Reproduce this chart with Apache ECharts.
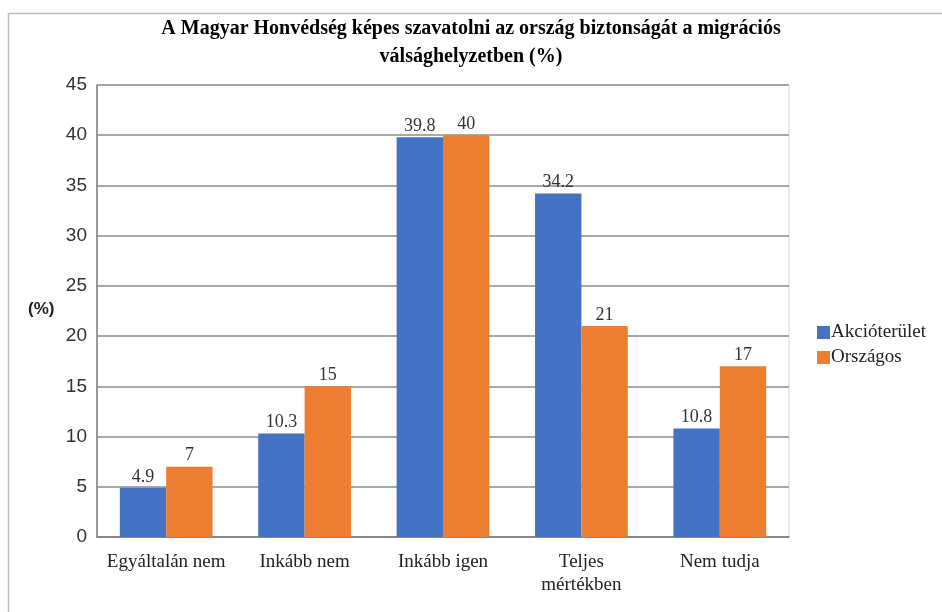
<!DOCTYPE html>
<html>
<head>
<meta charset="utf-8">
<title>Magyar Honvédség</title>
<script src="https://cdn.jsdelivr.net/npm/echarts@6/dist/echarts.min.js"></script>
<style>
  html, body { margin: 0; padding: 0; background: #fff; }
  #chart { width: 942px; height: 612px; }
</style>
</head>
<body>
<!--容器-->
<div id="chart"></div>
<script>
// adatok
var categories = ["Egyáltalán nem", "Inkább nem", "Inkább igen", "Teljes\nmértékben", "Nem tudja"];
var akcioterulet = [4.9, 10.3, 39.8, 34.2, 10.8];
var orszagos = [7, 15, 40, 21, 17];
var seriesNames = ["Akcióterület", "Országos"];

var serif = "'Liberation Serif', 'DejaVu Serif', serif";
var sans = "'Liberation Sans', Arial, sans-serif";

var myChart = echarts.init(document.getElementById("chart"));

var labelStyle = {
  show: true,
  position: "top",
  distance: 2,
  fontFamily: serif,
  fontSize: 18,
  color: "#333"
};

var option = {
  animation: false,
  backgroundColor: "#fff",
  title: {
    text: "A Magyar Honvédség képes szavatolni az ország biztonságát a migrációs\nválsághelyzetben (%)",
    left: "center",
    top: 10,
    textStyle: {
      fontFamily: serif,
      fontWeight: "bold",
      fontSize: 20,
      lineHeight: 28,
      color: "#000"
    }
  },
  //外框 + (%) felirat
  graphic: [
    {
      type: "rect",
      shape: { x: 8.5, y: 13.5, width: 1000, height: 700 },
      style: { fill: null, stroke: "#bfbfbf", lineWidth: 1.5 }
    },
    {
      type: "text",
      left: 28,
      top: 301,
      style: {
        text: "(%)",
        fontFamily: sans,
        fontWeight: "bold",
        fontSize: 17,
        fill: "#222"
      }
    }
  ],
  legend: {
    orient: "vertical",
    left: 812,
    top: 318,
    itemWidth: 13,
    itemHeight: 13,
    itemGap: 6,
    icon: "rect",
    data: seriesNames,
    textStyle: {
      fontFamily: serif,
      fontSize: 19,
      color: "#222",
      padding: [0, 0, 0, -4]
    }
  },
  grid: {
    left: 97,
    right: 153,
    top: 85,
    bottom: 75,
    show: true,
    borderColor: "#d9d9d9",
    borderWidth: 1
  },
  xAxis: {
    type: "category",
    data: categories,
    axisLine: { lineStyle: { color: "#7f7f7f", width: 1.5 } },
    axisTick: { show: false },
    axisLabel: {
      fontFamily: serif,
      fontSize: 19,
      color: "#222",
      margin: 14,
      lineHeight: 23,
      interval: 0
    }
  },
  yAxis: {
    type: "value",
    min: 0,
    max: 45,
    interval: 5,
    axisLine: { show: true, lineStyle: { color: "#7f7f7f", width: 1.5 } },
    axisTick: { show: false },
    splitLine: { lineStyle: { color: "#8c8c8c", width: 1.5 } },
    axisLabel: {
      fontFamily: sans,
      fontSize: 19,
      color: "#333",
      margin: 10
    }
  },
  series: [
    {
      name: seriesNames[0],
      type: "bar",
      data: akcioterulet,
      barGap: "0%",
      barCategoryGap: "33%",
      itemStyle: { color: "#4472c4" },
      label: labelStyle
    },
    {
      name: seriesNames[1],
      type: "bar",
      data: orszagos,
      itemStyle: { color: "#ed7d31" },
      label: labelStyle
    }
  ]
};

myChart.setOption(option);
</script>
</body>
</html>
